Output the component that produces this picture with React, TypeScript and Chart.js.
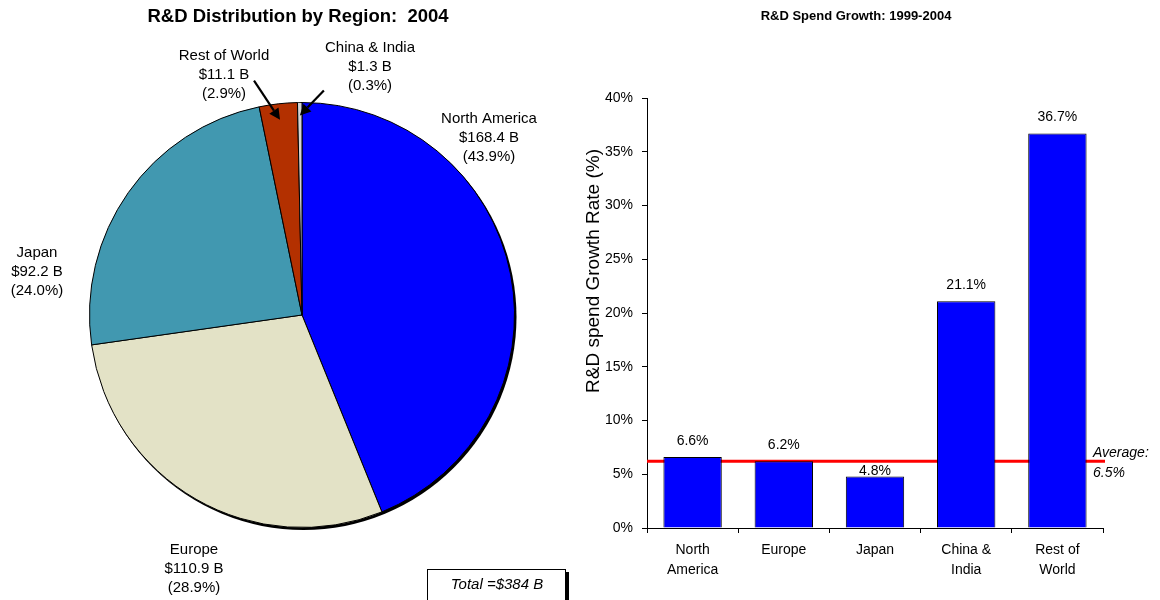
import React, { useEffect, useRef } from 'react';
import { Chart, registerables } from 'chart.js';

Chart.register(...registerables);

const FONT = "'Liberation Sans', Arial, Helvetica, sans-serif";

// ---------- Pie data ----------
const pieRegions = ['North America', 'Europe', 'Japan', 'Rest of World', 'China & India'];
const pieSpend = [168.4, 110.9, 92.2, 11.1, 1.3];
const pieShares = ['43.9%', '28.9%', '24.0%', '2.9%', '0.3%'];
const pieColors = ['#0000FF', '#E3E2C6', '#4198B0', '#B33000', '#D4D4D4'];
const totalSpend = 384;

// ---------- Bar data ----------
const barCategories = [['North', 'America'], ['Europe'], ['Japan'], ['China &', 'India'], ['Rest of', 'World']];
const growthRates = [6.6, 6.2, 4.8, 21.1, 36.7];
const averageLineValue = 6.2;
const averageLabel = '6.5%';
const yTickValues = [0, 5, 10, 15, 20, 25, 30, 35, 40];

// ---------- Layout (annotation placement, not data) ----------
const pieLabelLayout = [
  { x: 489, y: 119 }, // North America
  { x: 194, y: 550 }, // Europe
  { x: 37, y: 253 }, // Japan
  { x: 224, y: 56 }, // Rest of World
  { x: 370, y: 48 }, // China & India
];
const pieArrowLayout: Record<number, { inset: number; dx: number; dy: number }> = {
  3: { inset: 16, dx: -26, dy: -39 },
  4: { inset: 13, dx: 24, dy: -25 },
};

const pieDecor = {
  id: 'pieDecor',
  beforeDatasetsDraw(chart: any) {
    const arc = chart.getDatasetMeta(0).data[0];
    if (!arc) return;
    const { x, y, outerRadius } = arc.getProps(['x', 'y', 'outerRadius'], true);
    const ctx = chart.ctx;
    ctx.save();
    ctx.fillStyle = '#000';
    ctx.beginPath();
    ctx.arc(x + 1.5, y + 2, outerRadius + 0.5, 0, Math.PI * 2);
    ctx.fill();
    ctx.restore();
  },
  afterDraw(chart: any) {
    const ctx = chart.ctx;
    ctx.save();
    // title
    ctx.fillStyle = '#000';
    ctx.font = `bold 18.5px ${FONT}`;
    ctx.textAlign = 'center';
    ctx.textBaseline = 'middle';
    ctx.fillText('R&D Distribution by Region:  2004', 298, 17);

    // slice labels
    ctx.font = `15px ${FONT}`;
    pieRegions.forEach((name, i) => {
      const pos = pieLabelLayout[i];
      const lines = [name, `$${pieSpend[i].toFixed(1)} B`, `(${pieShares[i]})`];
      lines.forEach((t, j) => ctx.fillText(t, pos.x, pos.y + j * 19));
    });

    // arrows to thin slices
    const meta = chart.getDatasetMeta(0);
    Object.keys(pieArrowLayout).forEach((k) => {
      const idx = Number(k);
      const a = meta.data[idx];
      const cfg = pieArrowLayout[idx];
      const { x, y, startAngle, endAngle, outerRadius } = a.getProps(
        ['x', 'y', 'startAngle', 'endAngle', 'outerRadius'],
        true
      );
      const mid = (startAngle + endAngle) / 2;
      const tx = x + Math.cos(mid) * (outerRadius - cfg.inset);
      const ty = y + Math.sin(mid) * (outerRadius - cfg.inset);
      const sx = tx + cfg.dx;
      const sy = ty + cfg.dy;
      const ang = Math.atan2(ty - sy, tx - sx);
      const headLen = 11;
      const headW = 5.5;
      const bx = tx - Math.cos(ang) * headLen;
      const by = ty - Math.sin(ang) * headLen;
      ctx.strokeStyle = '#000';
      ctx.lineWidth = 2.2;
      ctx.beginPath();
      ctx.moveTo(sx, sy);
      ctx.lineTo(bx, by);
      ctx.stroke();
      ctx.fillStyle = '#000';
      ctx.beginPath();
      ctx.moveTo(tx, ty);
      ctx.lineTo(bx + Math.sin(ang) * headW, by - Math.cos(ang) * headW);
      ctx.lineTo(bx - Math.sin(ang) * headW, by + Math.cos(ang) * headW);
      ctx.closePath();
      ctx.fill();
    });

    // total box
    ctx.fillStyle = '#000';
    ctx.fillRect(566, 572, 3, 40);
    ctx.fillStyle = '#fff';
    ctx.fillRect(427.5, 569.5, 138, 40);
    ctx.strokeStyle = '#000';
    ctx.lineWidth = 1;
    ctx.strokeRect(427.5, 569.5, 138, 40);
    ctx.fillStyle = '#000';
    ctx.font = `italic 15px ${FONT}`;
    ctx.textAlign = 'center';
    ctx.fillText(`Total =$${totalSpend} B`, 497, 585);
    ctx.restore();
  },
};

const barDecor = {
  id: 'barDecor',
  beforeDatasetsDraw(chart: any) {
    const { ctx, chartArea } = chart;
    const yPix = chart.scales.y.getPixelForValue(averageLineValue);
    ctx.save();
    ctx.strokeStyle = '#FF0000';
    ctx.lineWidth = 3;
    ctx.beginPath();
    ctx.moveTo(chartArea.left, yPix);
    ctx.lineTo(chartArea.right + 2, yPix);
    ctx.stroke();
    ctx.restore();
  },
  afterDatasetsDraw(chart: any) {
    const ctx = chart.ctx;
    const lineY = chart.scales.y.getPixelForValue(averageLineValue);
    const meta = chart.getDatasetMeta(0);
    ctx.save();
    ctx.fillStyle = '#000';
    ctx.font = `14px ${FONT}`;
    ctx.textAlign = 'center';
    ctx.textBaseline = 'middle';
    meta.data.forEach((bar: any, i: number) => {
      let ly = bar.y - 16;
      if (Math.abs(ly - lineY) < 9) ly = lineY + 9.5;
      ctx.fillText(`${growthRates[i].toFixed(1)}%`, bar.x, ly);
    });
    ctx.restore();
  },
  afterDraw(chart: any) {
    const { ctx, chartArea } = chart;
    const lineY = chart.scales.y.getPixelForValue(averageLineValue);
    ctx.save();
    ctx.fillStyle = '#000';
    ctx.font = `bold 13px ${FONT}`;
    ctx.textAlign = 'center';
    ctx.textBaseline = 'middle';
    ctx.fillText('R&D Spend Growth: 1999-2004', 276, 16);

    // y-axis title
    ctx.save();
    ctx.font = `19px ${FONT}`;
    ctx.translate(19, 271);
    ctx.rotate(-Math.PI / 2);
    ctx.textAlign = 'center';
    ctx.textBaseline = 'alphabetic';
    ctx.fillText('R&D spend Growth Rate (%)', 0, 0);
    ctx.restore();

    // average annotation
    ctx.font = `italic 14px ${FONT}`;
    ctx.textAlign = 'left';
    ctx.textBaseline = 'middle';
    ctx.fillText('Average:', chartArea.right - 10, lineY - 8);
    ctx.fillText(averageLabel, chartArea.right - 10, lineY + 12);
    ctx.restore();
  },
};

export default function App() {
  const pieRef = useRef<HTMLCanvasElement>(null);
  const barRef = useRef<HTMLCanvasElement>(null);

  useEffect(() => {
    Chart.defaults.font.family = FONT;
    const pie = new Chart(pieRef.current as HTMLCanvasElement, {
      type: 'pie',
      data: {
        labels: pieRegions,
        datasets: [
          {
            data: pieSpend,
            backgroundColor: pieColors,
            borderColor: '#000',
            borderWidth: 1,
          },
        ],
      },
      options: {
        responsive: false,
        animation: false,
        events: [],
        layout: { padding: { left: 89, right: 65, top: 102, bottom: 72 } },
        plugins: { legend: { display: false }, tooltip: { enabled: false } },
      },
      plugins: [pieDecor],
    } as any);

    const bar = new Chart(barRef.current as HTMLCanvasElement, {
      type: 'bar',
      data: {
        labels: barCategories,
        datasets: [
          {
            data: growthRates,
            backgroundColor: '#0000FF',
            borderColor: '#000',
            borderWidth: 1,
            categoryPercentage: 1,
            barPercentage: 0.64,
          },
        ],
      },
      options: {
        responsive: false,
        animation: false,
        events: [],
        layout: { padding: { left: 0, right: 57, top: 98, bottom: 0 } },
        plugins: { legend: { display: false }, tooltip: { enabled: false } },
        scales: {
          x: {
            grid: {
              display: true,
              drawOnChartArea: false,
              drawTicks: true,
              tickLength: 5,
              color: '#000',
              offset: true,
            },
            border: { display: true, color: '#000', width: 1 },
            ticks: {
              font: { family: FONT, size: 14, lineHeight: 20 / 14 },
              color: '#000',
              padding: 7,
              maxRotation: 0,
              autoSkip: false,
            },
            afterFit: (s: any) => {
              s.height = 72;
            },
          },
          y: {
            min: 0,
            max: 40,
            afterBuildTicks: (s: any) => {
              s.ticks = yTickValues.map((v) => ({ value: v }));
            },
            grid: {
              display: true,
              drawOnChartArea: false,
              drawTicks: true,
              tickLength: 5,
              color: '#000',
            },
            border: { display: true, color: '#000', width: 1 },
            ticks: {
              font: { family: FONT, size: 14 },
              color: '#000',
              padding: 9,
              callback: (v: any) => `${v}%`,
            },
            afterFit: (s: any) => {
              s.width = 67;
            },
          },
        },
      },
      plugins: [barDecor],
    } as any);

    return () => {
      pie.destroy();
      bar.destroy();
    };
  }, []);

  return (
    <div
      style={{
        position: 'absolute',
        left: 0,
        top: 0,
        width: 1160,
        height: 600,
        background: '#fff',
        overflow: 'hidden',
      }}
    >
      <canvas
        ref={pieRef}
        width={580}
        height={600}
        style={{ position: 'absolute', left: 0, top: 0, width: 580, height: 600 }}
      />
      <canvas
        ref={barRef}
        width={580}
        height={600}
        style={{ position: 'absolute', left: 580, top: 0, width: 580, height: 600 }}
      />
    </div>
  );
}
